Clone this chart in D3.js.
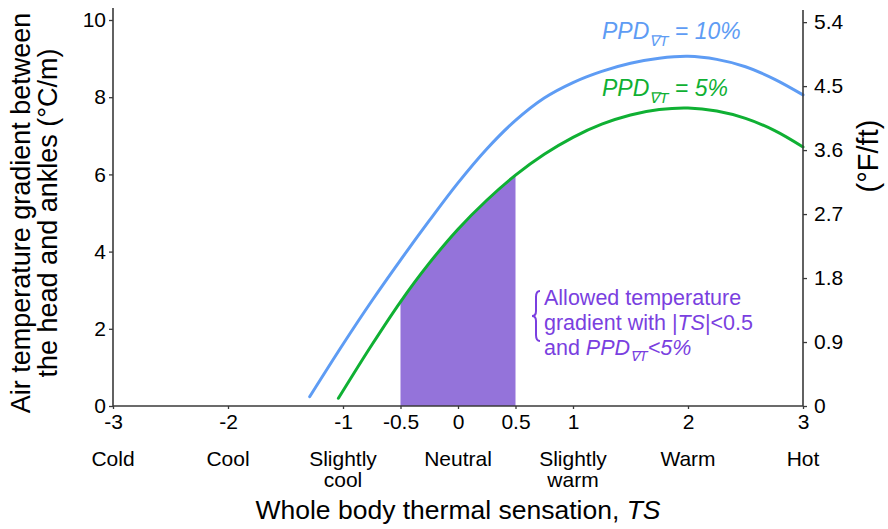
<!DOCTYPE html>
<html><head><meta charset="utf-8">
<script src="https://cdn.jsdelivr.net/npm/d3@7"></script>
<style>
body{margin:0;background:#fff}
svg{font-family:"Liberation Sans",Arial,Helvetica,sans-serif}
</style></head>
<body><svg id="c" width="888" height="529"></svg>
<script>
// ---- data ----
const tsBlue   = [-1.29,-1.0,-0.75,-0.5,-0.25,0,0.25,0.5,0.75,1.0,1.25,1.5,1.75,2.0,2.25,2.5,2.75,3.0];
const gradBlue = [0.24,1.60,2.72,3.78,4.80,5.78,6.66,7.40,7.98,8.38,8.67,8.88,9.01,9.06,8.98,8.79,8.47,8.06];
const tsGreen   = [-1.04,-0.75,-0.5,-0.25,0,0.25,0.5,0.75,1.0,1.25,1.5,1.75,2.0,2.25,2.5,2.75,3.0];
const gradGreen = [0.2,1.58,2.7,3.7,4.58,5.33,5.98,6.52,6.96,7.3,7.54,7.68,7.72,7.64,7.45,7.14,6.71];
const allowedRange = [-0.5, 0.5];
const xTicks = [-3,-2,-1,-0.5,0,0.5,1,2,3];
const xTickLabels = ["-3","-2","-1","-0.5","0","0.5","1","2","3"];
const sensationPos = [-3,-2,-1,0,1,2,3];
const sensationLabels = [["Cold"],["Cool"],["Slightly","cool"],["Neutral"],["Slightly","warm"],["Warm"],["Hot"]];
const yTicksLeft = [0,2,4,6,8,10];
const yTicksRight = [0,0.9,1.8,2.7,3.6,4.5,5.4];
const yRightLabels = ["0","0.9","1.8","2.7","3.6","4.5","5.4"];

// ---- layout ----
const svg = d3.select("#c");
const L = 113, R = 803, B = 406, T = 20;
const x = d3.scaleLinear().domain([-3,3]).range([L,R]);
const y = d3.scaleLinear().domain([0,10]).range([B,T]);
const y2 = d3.scaleLinear().domain([0,5.43]).range([B,T]);
const axisCol = "#3a3a3a";
const blue = "#5e9cf4", green = "#0fb033", purple = "#9473da", textPurple = "#7a3fe0";

// shaded allowed region (under green curve, clipped to |TS|<0.5)
svg.append("clipPath").attr("id","clipA").append("rect")
  .attr("x", x(allowedRange[0])).attr("width", x(allowedRange[1]) - x(allowedRange[0]))
  .attr("y", 0).attr("height", 529);
const gData = tsGreen.map((t,i)=>({t, v: gradGreen[i]}));
const bData = tsBlue.map((t,i)=>({t, v: gradBlue[i]}));
const curve = d3.curveCatmullRom.alpha(0.5);
svg.append("path").datum(gData)
  .attr("clip-path","url(#clipA)")
  .attr("fill", purple)
  .attr("d", d3.area().x(d=>x(d.t)).y0(y(0)).y1(d=>y(d.v)).curve(curve));

// curves
const line = d3.line().x(d=>x(d.t)).y(d=>y(d.v)).curve(curve);
svg.append("path").datum(bData).attr("fill","none").attr("stroke",blue).attr("stroke-width",3).attr("stroke-linecap","round").attr("d",line);
svg.append("path").datum(gData).attr("fill","none").attr("stroke",green).attr("stroke-width",3).attr("stroke-linecap","round").attr("d",line);

// axes
function styleAxis(g){
  g.select(".domain").attr("stroke",axisCol).attr("stroke-width",1.6);
  g.selectAll(".tick line").attr("stroke",axisCol).attr("stroke-width",1.3);
  g.selectAll(".tick text").attr("fill","#000").style("font-size","21px");
}
const gl = svg.append("g").attr("transform",`translate(${L},0)`)
  .call(d3.axisLeft(y).tickValues(yTicksLeft).tickSize(4).tickSizeOuter(0).tickPadding(3).tickFormat(d3.format("d")));
styleAxis(gl);
gl.select(".domain").attr("d", `M0,${B}V8`);
const gr = svg.append("g").attr("transform",`translate(${R},0)`)
  .call(d3.axisRight(y2).tickValues(yTicksRight).tickSize(4).tickSizeOuter(0).tickPadding(7).tickFormat((d,i)=>yRightLabels[i]));
styleAxis(gr);
gr.select(".domain").attr("d", `M0,${B}V10`);
const gb = svg.append("g").attr("transform",`translate(0,${B})`)
  .call(d3.axisBottom(x).tickValues(xTicks).tickSize(3).tickSizeOuter(0).tickPadding(5).tickFormat((d,i)=>xTickLabels[i]));
styleAxis(gb);
gb.select(".domain").attr("d", `M${L},0H${R}`);

// sensation category labels
const cat = svg.append("g").style("font-size","21px").attr("text-anchor","middle");
sensationPos.forEach((p,i)=>{
  const t = cat.append("text").attr("x", x(p)).attr("y", 466);
  sensationLabels[i].forEach((s,j)=>{
    t.append("tspan").attr("x", x(p)).attr("dy", j===0?0:21).text(s);
  });
});

// axis titles
const xt = svg.append("text").attr("x", 458).attr("y", 519).attr("text-anchor","middle").style("font-size","26.5px");
xt.append("tspan").text("Whole body thermal sensation, ");
xt.append("tspan").attr("font-style","italic").text("TS");

const yt = svg.append("text").attr("transform","translate(30,213) rotate(-90)").attr("text-anchor","middle").style("font-size","27px");
yt.append("tspan").attr("x",0).attr("dy",0).text("Air temperature gradient between");
yt.append("tspan").attr("x",0).attr("dy",27).text("the head and ankles (°C/m)");

svg.append("text").attr("transform","translate(878,156) rotate(-90)").attr("text-anchor","middle").style("font-size","29px").text("(°F/ft)");

// curve labels
function ppdLabel(xp, yp, col, rest){
  const t = svg.append("text").attr("x",xp).attr("y",yp).attr("fill",col).style("font-size","23px").attr("font-style","italic");
  t.append("tspan").text("PPD");
  t.append("tspan").attr("dy",7).style("font-size","15px").text("∇T");
  t.append("tspan").attr("dy",-7).text(rest);
}
ppdLabel(602, 39, blue, " = 10%");
ppdLabel(602, 96, green, " = 5%");

// annotation
const brace = d3.path();
const bx = 537, by0 = 291, by1 = 341, bm = (by0+by1)/2;
brace.moveTo(bx+3, by0);
brace.quadraticCurveTo(bx-1, by0, bx-1, by0+6);
brace.lineTo(bx-1, bm-5);
brace.quadraticCurveTo(bx-1, bm, bx-5, bm);
brace.quadraticCurveTo(bx-1, bm, bx-1, bm+5);
brace.lineTo(bx-1, by1-6);
brace.quadraticCurveTo(bx-1, by1, bx+3, by1);
svg.append("path").attr("d", brace.toString()).attr("fill","none").attr("stroke",textPurple).attr("stroke-width",2);

const ann = svg.append("g").attr("fill",textPurple).style("font-size","21.5px");
ann.append("text").attr("x",544).attr("y",305).text("Allowed temperature");
const a2 = ann.append("text").attr("x",544).attr("y",330);
a2.append("tspan").text("gradient with |");
a2.append("tspan").attr("font-style","italic").text("TS");
a2.append("tspan").text("|<0.5");
const a3 = ann.append("text").attr("x",544).attr("y",355);
a3.append("tspan").text("and ");
a3.append("tspan").attr("font-style","italic").text("PPD");
a3.append("tspan").attr("font-style","italic").attr("dy",6).style("font-size","14px").text("∇T");
a3.append("tspan").attr("font-style","italic").attr("dy",-6).text("<5%");
</script>
</body></html>
